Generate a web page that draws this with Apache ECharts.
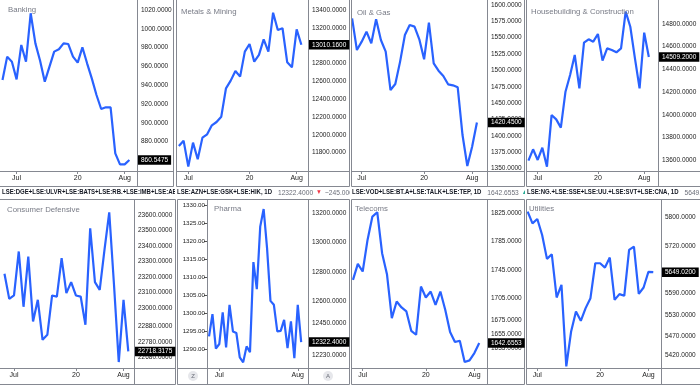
<!DOCTYPE html>
<html><head><meta charset="utf-8">
<script src="https://cdn.jsdelivr.net/npm/echarts@6/dist/echarts.min.js"></script>
<style>html,body{margin:0;padding:0;background:#fff}#c{width:700px;height:386px}</style>
</head><body><div id="c"></div>
<script>
// ---------- data ----------
const dates = ['2020-06-26','2020-06-29','2020-06-30','2020-07-01','2020-07-02','2020-07-03','2020-07-06','2020-07-07','2020-07-08','2020-07-09','2020-07-10','2020-07-13','2020-07-14','2020-07-15','2020-07-16','2020-07-17','2020-07-20','2020-07-21','2020-07-22','2020-07-23','2020-07-24','2020-07-27','2020-07-28','2020-07-29','2020-07-30','2020-07-31','2020-08-03','2020-08-04'];
const xTickIdx = [3, 16, 26];
const xTickLabels = ['Jul', '20', 'Aug'];

const titles = ['Banking','Metals & Mining','Oil & Gas','Housebuilding & Construction','Consumer Defensive','Pharma','Telecoms','Utilities'];

const banking = [945.5,970.4,965.0,946.2,982.8,965.0,1016.5,984.5,966.0,943.8,959.7,975.7,978.2,984.5,983.8,970.4,964.0,980.3,963.3,947.3,929.6,914.7,916.5,916.5,867.5,855.8,855.9,860.5475];
const metals = [null,11875,11935,11644,11913,11726,11969,12006,12107,12144,12204,12522,12608,12716,12653,12933,13019,12821,12896,13071,12933,13370,13176,13195,12813,12757,13183,13010.16];
const oilGas = [null,1579.6,1531.2,1543.9,1559.2,1541.4,1578.1,1546.5,1528.6,1470.0,1479.2,1513.4,1554.1,1569.4,1566.9,1547.5,1516.9,1573.0,1510.8,1499.6,1491.4,1478.7,1477.2,1474.1,1401.2,1353.8,1383.4,1420.45];
const housebuilding = [null,13595,13695,13601,13709,13542,13997,13959,13886,14203,14350,14527,14233,14635,14665,14644,14712,14477,14585,14571,14550,14585,14909,14776,14497,14233,14724,14509.2];
const consumerDefensive = [null,23220,23058,23080,23364,23007,23331,22912,23052,22794,22826,23080,23073,23321,23095,23166,23080,23073,22891,23514,23166,23116,23374,23617,23149,22650,23052,22718.3175];
const pharma = [12361,12513,12277,12309,12524,12286,12576,12395,12384,12218,12184,12293,12254,12867,12683,13109,13229,12962,12603,12576,12395,12399,12474,12281,12463,12213,12576,12322.4];
const telecoms = [null,1731.4,1753.8,1743.1,1787.5,1820.3,1826.4,1768.8,1739.4,1677.6,1701.0,1692.6,1687.0,1659.8,1654.2,1722.0,1706.6,1715.0,1696.3,1715.0,1689.3,1658.0,1644.0,1645.8,1616.0,1618.2,1628.5,1642.6553];
const utilities = [null,5816.7,5784.4,5796.4,5752.1,5685.7,5698.6,5578.7,5613.7,5387.7,5484.6,5540.0,5514.0,5549.2,5576.8,5673.7,5673.7,5661.7,5689.4,5572.2,5588.0,5583.3,5710.6,5719.8,5588.8,5606.3,5650.0,5649.02];

const ticksBanking = [1020,1000,980,960,940,920,900,880];
const ticksMetals = [13400,13200,12800,12600,12400,12200,12000,11800];
const ticksOilGas = [1600,1575,1550,1525,1500,1475,1450,1425,1400,1375,1350];
const ticksHouse = [14800,14600,14400,14200,14000,13800,13600];
const ticksConsumer = [23600,23500,23400,23300,23200,23100,23000,22880,22780,22680];
const ticksPharma = [13200,13000,12800,12600,12450,12230];
const ticksPharmaLeft = [1330,1325,1320,1315,1310,1305,1300,1295,1290];
const ticksTelecoms = [1825,1785,1745,1705,1675,1655,1635];
const ticksUtilities = [5800,5720,5590,5530,5470,5420];

const stripSymbols = ['LSE:DGE+LSE:ULVR+LSE:BATS+LSE:RB.+LSE:IMB+LSE:ABF, 1D','LSE:AZN+LSE:GSK+LSE:HIK, 1D','LSE:VOD+LSE:BT.A+LSE:TALK+LSE:TEP, 1D','LSE:NG.+LSE:SSE+LSE:UU.+LSE:SVT+LSE:CNA, 1D'];
const stripLast = ['22718.3175','12322.4000','1642.6553','5649.0200'];
const stripDir = ['', 'down', 'up', ''];
const stripChange = ['', '−245.0000', '', ''];

// ---------- layout ----------
const FONT = '"Liberation Sans", Arial, sans-serif';
const LINE = '#858891';
const panels = [
  {data: banking, ticks: ticksBanking, g:{left:0, top:0, width:137, height:171}, x:[-0.53,28.62], y:[848.8,1030.6], t:[8,10]},
  {data: metals, ticks: ticksMetals, g:{left:177, top:0, width:131, height:171}, x:[0.6,28.41], y:[11594.8,13512], t:[181,11.5]},
  {data: oilGas, ticks: ticksOilGas, g:{left:352, top:0, width:135, height:171}, x:[0.98,29.1], y:[1346.2,1607.6], t:[357,13]},
  {data: housebuilding, ticks: ticksHouse, g:{left:527, top:0, width:131, height:171}, x:[0.69,28.98], y:[13503.7,15011.6], t:[531,12]},
  {data: consumerDefensive, ticks: ticksConsumer, g:{left:0, top:199, width:134, height:169}, x:[0.06,28.2], y:[22611.6,23703], t:[7,210]},
  {data: pharma, ticks: ticksPharma, g:{left:207, top:199, width:101, height:169}, x:[-0.6,29.0], y:[12145.6,13297], t:[214,208.5], noMid:true},
  {data: telecoms, ticks: ticksTelecoms, g:{left:352, top:199, width:135, height:169}, x:[0.8,28.6], y:[1607.5,1845], t:[355,208.5]},
  {data: utilities, ticks: ticksUtilities, g:{left:526, top:199, width:135, height:169}, x:[0.66,28.6], y:[5383.2,5851.8], t:[529,208.5]}
];

const grids = [], xAxes = [], yAxes = [], series = [], graphics = [];
panels.forEach((p, i) => {
  grids.push(Object.assign({containLabel:false}, p.g));
  const xt = p.noMid ? xTickIdx.filter(v => v !== 16) : xTickIdx;
  xAxes.push({
    gridIndex:i, type:'value', min:p.x[0], max:p.x[1],
    axisLine:{show:false}, splitLine:{show:false},
    axisTick:{show:true, customValues:xt, length:3, lineStyle:{color:LINE}},
    axisLabel:{customValues:xt, formatter:v => xTickLabels[xTickIdx.indexOf(v)], fontSize:7, color:'#222', margin:4, fontFamily:FONT}
  });
  yAxes.push({
    gridIndex:i, type:'value', position:'right', min:p.y[0], max:p.y[1],
    axisLine:{show:false}, axisTick:{show:false}, splitLine:{show:false},
    axisLabel:{customValues:p.ticks, formatter:v => v.toFixed(4), fontSize:6.5, color:'#222', margin:4, fontFamily:FONT}
  });
  series.push({
    type:'line', xAxisIndex:i, yAxisIndex:i, showSymbol:false, animation:false,
    data:p.data.map((v, j) => [j, v]),
    lineStyle:{width:2.2, color:'#2962ff'}, itemStyle:{color:'#2962ff'}
  });
  graphics.push({type:'text', x:p.t[0], y:p.t[1], z:50, style:{text:titles[i], fontSize:7.8, fill:'#787b86', fontFamily:FONT, verticalAlign:'middle'}});
});
// Pharma left scale (no series on it)
yAxes.push({
  gridIndex:5, type:'value', position:'left', min:1284.93, max:1331.86,
  axisLine:{show:false}, splitLine:{show:false},
  axisTick:{show:true, customValues:ticksPharmaLeft, length:3, lineStyle:{color:'#555'}},
  axisLabel:{customValues:ticksPharmaLeft, formatter:v => v.toFixed(2), fontSize:6.2, color:'#222', margin:2, fontFamily:FONT}
});

// frame lines
function ln(x1, y1, x2, y2) { graphics.push({type:'line', z:40, silent:true, shape:{x1, y1, x2, y2}, style:{stroke:LINE, lineWidth:1}}); }
[[0,173.5],[176.5,349.5],[351.5,524.5],[526.5,700]].forEach(([a,b]) => { ln(a,186.5,b,186.5); ln(a,171.5,b,171.5); });
[173.5,176.5,349.5,351.5,524.5,526.5].forEach(x => ln(x,0,x,186.5));
[137.5,308.5,487.5,658.5].forEach(x => ln(x,0,x,186.5));
[[0,175.5],[177.5,349.5],[351.5,524.5],[526.5,700]].forEach(([a,b]) => { ln(a,199.5,b,199.5); ln(a,384.5,b,384.5); ln(a,368.5,b,368.5); });
[175.5,177.5,349.5,351.5,524.5,526.5].forEach(x => ln(x,199.5,x,384.5));
[134.5,207.5,308.5,487.5,661.5].forEach(x => ln(x,199.5,x,384.5));

// badges in pharma panel
[[193,376,'Z'],[328,376,'A']].forEach(([cx,cy,t]) => {
  graphics.push({type:'circle', z:41, shape:{cx, cy, r:5}, style:{fill:'#e6e7eb'}});
  graphics.push({type:'text', z:42, x:cx, y:cy, style:{text:t, fontSize:6, fill:'#6a6d78', align:'center', verticalAlign:'middle', fontFamily:FONT}});
});

// legend strip between rows
const stripX = [2, 177, 352, 527];
stripX.forEach((sx, k) => {
  if (k > 0) graphics.push({type:'rect', z:60 + k * 2, shape:{x:sx - 2, y:187, width:700 - sx + 2, height:12}, style:{fill:'#fff'}});
  let txt = '{b|' + stripSymbols[k] + '}  {v|' + stripLast[k] + '}';
  if (stripDir[k] === 'down') txt += ' {r|▼} {v|' + stripChange[k] + '}';
  if (stripDir[k] === 'up') txt += ' {g|▲}';
  graphics.push({type:'text', z:61 + k * 2, x:sx, y:192.5, scaleX:0.9, style:{
    text:txt, verticalAlign:'middle', fontFamily:FONT,
    rich:{
      b:{fontSize:6.7, fontWeight:'bold', fill:'#131722', fontFamily:FONT},
      v:{fontSize:7.4, fill:'#6a6d78', fontFamily:FONT},
      r:{fontSize:6.5, fill:'#f23645'},
      g:{fontSize:6.5, fill:'#22ab94'}
    }}});
});

const chart = echarts.init(document.getElementById('c'), null, {renderer:'canvas'});
chart.setOption({
  animation:false,
  backgroundColor:'#fff',
  grid:grids, xAxis:xAxes, yAxis:yAxes, series:series,
  graphic:{elements:graphics}
});

// last-price boxes on each price scale, positioned through the axis scale
const boxes = panels.map((p, i) => {
  const last = p.data[p.data.length - 1];
  const py = chart.convertToPixel({yAxisIndex:i}, last);
  return {type:'text', z:70, x:p.g.left + p.g.width + 1, y:py, style:{
    text:last.toFixed(4), fill:'#fff', backgroundColor:'#000', padding:[1.5,3,1,3],
    fontSize:6.5, fontFamily:FONT, verticalAlign:'middle'}};
});
chart.setOption({graphic:{elements:graphics.concat(boxes)}});
</script></body></html>
